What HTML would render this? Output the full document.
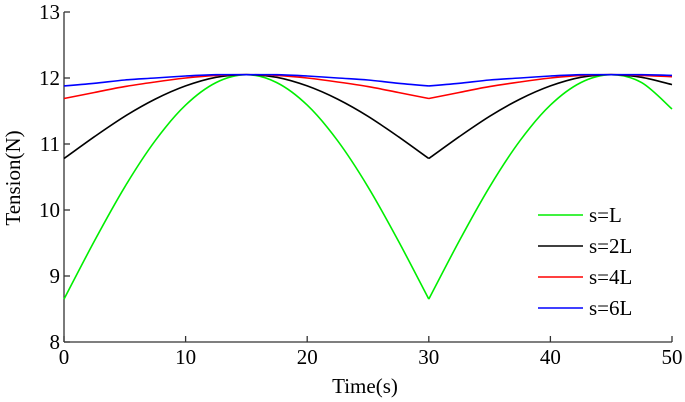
<!DOCTYPE html>
<html><head><meta charset="utf-8"><style>
html,body{margin:0;padding:0;background:#fff;}
svg{display:block;font-family:"Liberation Serif",serif;}
</style></head><body>
<svg id="chart" width="685" height="402">
<g id="axes"></g><g id="series"></g><g id="legend"></g>
</svg>
<script>
const times = [0,2.5,5,7.5,10,12.5,15,17.5,20,22.5,25,27.5,30,32.5,35,37.5,40,42.5,45,47.5,50];
const sL  = [8.65,9.53,10.35,11.05,11.59,11.93,12.05,11.93,11.59,11.05,10.35,9.53,8.65,9.53,10.35,11.05,11.59,11.93,12.05,11.93,11.53];
const s2L = [10.78,11.11,11.42,11.68,11.88,12.01,12.05,12.01,11.88,11.68,11.42,11.11,10.78,11.11,11.42,11.68,11.88,12.01,12.05,12.01,11.9];
const s4L = [11.69,11.78,11.87,11.94,12.0,12.04,12.05,12.04,12.0,11.94,11.87,11.78,11.69,11.78,11.87,11.94,12.0,12.04,12.05,12.04,12.02];
const s6L = [11.88,11.92,11.97,12.0,12.03,12.05,12.05,12.05,12.03,12.0,11.97,11.92,11.88,11.92,11.97,12.0,12.03,12.05,12.05,12.05,12.04];
const xTicks = [0,10,20,30,40,50];
const yTicks = [8,9,10,11,12,13];
const seriesNames = ["s=L","s=2L","s=4L","s=6L"];
const seriesColors = ["#00ee00","#000000","#ff0000","#0000ff"];

const NS="http://www.w3.org/2000/svg";
const X0=64, X1=672, Y0=342, Y1=12;
const xs=v=>X0+(v-0)/(50-0)*(X1-X0);
const ys=v=>Y0-(v-8)/(13-8)*(Y0-Y1);
function mk(tag,attrs,parent){const e=document.createElementNS(NS,tag);for(const k in attrs)e.setAttribute(k,attrs[k]);parent.appendChild(e);return e;}
const axes=document.getElementById('axes');
const yAxis=mk('line',{x1:X0,y1:Y1,x2:X0,y2:Y0,stroke:'#333','stroke-width':1.3},axes);


const xAxis=mk('line',{x1:X0,y1:Y0,x2:X1,y2:Y0,stroke:'#333','stroke-width':1.3},axes);


xTicks.forEach(t=>{
  mk('line',{x1:xs(t),y1:Y0,x2:xs(t),y2:Y0-6,stroke:'#333','stroke-width':1.3},axes);
  const tx=mk('text',{x:xs(t),y:Y0+22,'text-anchor':'middle','font-size':21,fill:'#000'},axes);
  tx.textContent=t;
  
  
});
yTicks.forEach(t=>{
  mk('line',{x1:X0,y1:ys(t),x2:X0+6,y2:ys(t),stroke:'#333','stroke-width':1.3},axes);
  const tx=mk('text',{x:X0-4,y:ys(t)+7,'text-anchor':'end','font-size':21,fill:'#000'},axes);
  tx.textContent=t;
  
  
});
const xt=mk('text',{x:365,y:393,'text-anchor':'middle','font-size':21,fill:'#000'},axes);
xt.textContent='Time(s)';


const yt=mk('text',{x:0,y:0,'text-anchor':'middle','font-size':21,fill:'#000',transform:'translate(20,178) rotate(-90)'},axes);
yt.textContent='Tension(N)';



// Catmull-Rom smoothing per segment, with a break (cusp) at local minima
function smoothPath(P){
  let d='M'+P[0][0].toFixed(1)+','+P[0][1].toFixed(1);
  for(let i=0;i<P.length-1;i++){
    const p0=P[i-1]||P[i], p1=P[i], p2=P[i+1], p3=P[i+2]||P[i+1];
    const c1=[p1[0]+(p2[0]-p0[0])/6, p1[1]+(p2[1]-p0[1])/6];
    const c2=[p2[0]-(p3[0]-p1[0])/6, p2[1]-(p3[1]-p1[1])/6];
    d+=' C'+c1.map(v=>v.toFixed(1)).join(',')+' '+c2.map(v=>v.toFixed(1)).join(',')+' '+p2[0].toFixed(1)+','+p2[1].toFixed(1);
  }
  return d;
}
const ser=document.getElementById('series');
[sL,s2L,s4L,s6L].forEach((arr,i)=>{
  const pts=arr.map((v,j)=>[xs(times[j]),ys(v)]);
  // split at interior minima
  let segs=[], cur=[pts[0]];
  for(let j=1;j<arr.length;j++){
    cur.push(pts[j]);
    if(j<arr.length-1 && arr[j]<arr[j-1] && arr[j]<arr[j+1]){segs.push(cur);cur=[pts[j]];}
  }
  segs.push(cur);
  const d=segs.map(smoothPath).join(' ');
  const p=mk('path',{d:d,fill:'none',stroke:seriesColors[i],'stroke-width':1.6,'stroke-linejoin':'round'},ser);
  
  
});
const leg=document.getElementById('legend');
seriesNames.forEach((n,i)=>{
  const y=215+i*31;
  const g=mk('g',{},leg);
  
  
  mk('line',{x1:538,y1:y,x2:583,y2:y,stroke:seriesColors[i],'stroke-width':1.6},g);
  const t=mk('text',{x:589,y:y+7,'font-size':21,fill:'#000'},g);
  t.textContent=n;
});
</script>
</body></html>
